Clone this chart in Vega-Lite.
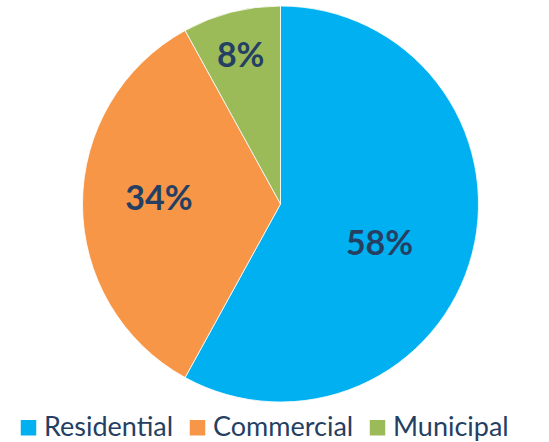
{
  "$schema": "https://vega.github.io/schema/vega-lite/v6.json",
  "autosize": {"type": "none"},
  "width": 396,
  "height": 396,
  "padding": {"left": 82.5, "top": 6, "right": 70.5, "bottom": 40},
  "background": "white",
  "config": {"view": {"stroke": null}},
  "data": {
    "values": [
      {"category": "Residential", "share": 0.58},
      {"category": "Commercial", "share": 0.34},
      {"category": "Municipal", "share": 0.08}
    ]
  },
  "encoding": {
    "theta": {"field": "share", "type": "quantitative", "stack": true},
    "order": {"field": "share", "type": "quantitative", "sort": "descending"},
    "color": {
      "field": "category",
      "type": "nominal",
      "sort": ["Residential", "Commercial", "Municipal"],
      "scale": {
        "domain": ["Residential", "Commercial", "Municipal"],
        "range": ["#00B0F0", "#F79646", "#9BBB59"]
      },
      "legend": {
        "title": null,
        "orient": "none",
        "direction": "horizontal",
        "legendX": -67.5,
        "legendY": 408,
        "padding": 0,
        "symbolType": "square",
        "symbolSize": 240,
        "symbolStrokeWidth": 0,
        "symbolOpacity": 1,
        "labelFont": "Lato",
        "labelFontSize": 27,
        "labelColor": "#253f63",
        "labelOffset": 2,
        "columnPadding": 10,
        "labelLimit": 300
      }
    }
  },
  "layer": [
    {
      "mark": {"type": "arc", "stroke": "white", "strokeWidth": 0.8}
    },
    {
      "mark": {"type": "text", "radius": 107, "dx": -4.6, "dy": 14.4, "font": "Lato", "fontWeight": "bold", "fontSize": 34, "fill": "#253f63", "baseline": "middle", "align": "center"},
      "encoding": {
        "text": {"condition": {"test": "datum.category === 'Residential'", "field": "share", "type": "quantitative", "format": ".0%"}, "value": ""},
        "color": {"value": "#253f63"}
      }
    },
    {
      "mark": {"type": "text", "radius": 121.5, "dx": 0, "dy": -4.5, "font": "Lato", "fontWeight": "bold", "fontSize": 34, "fill": "#253f63", "baseline": "middle", "align": "center"},
      "encoding": {
        "text": {"condition": {"test": "datum.category === 'Commercial'", "field": "share", "type": "quantitative", "format": ".0%"}, "value": ""},
        "color": {"value": "#253f63"}
      }
    },
    {
      "mark": {"type": "text", "radius": 152, "dx": -2, "dy": 0, "font": "Lato", "fontWeight": "bold", "fontSize": 34, "fill": "#253f63", "baseline": "middle", "align": "center"},
      "encoding": {
        "text": {"condition": {"test": "datum.category === 'Municipal'", "field": "share", "type": "quantitative", "format": ".0%"}, "value": ""},
        "color": {"value": "#253f63"}
      }
    }
  ]
}
